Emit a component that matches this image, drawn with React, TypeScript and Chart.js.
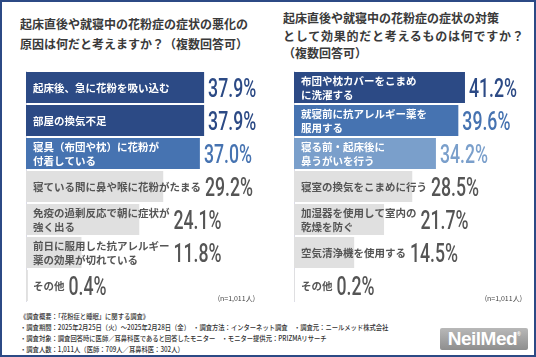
import React, { useEffect, useRef } from "react";
import { Chart, registerables } from "chart.js";

Chart.register(...registerables);

// ---------- DATA ----------
const leftCategories: string[][] = [
  ["起床後、急に花粉を吸い込む"],
  ["部屋の換気不足"],
  ["寝具（布団や枕）に花粉が", "付着している"],
  ["寝ている間に鼻や喉に花粉がたまる"],
  ["免疫の過剰反応で朝に症状が", "強く出る"],
  ["前日に服用した抗アレルギー", "薬の効果が切れている"],
  ["その他"],
];
const leftValues: number[] = [37.9, 37.9, 37.0, 29.2, 24.1, 11.8, 0.4];

const rightCategories: string[][] = [
  ["布団や枕カバーをこまめ", "に洗濯する"],
  ["就寝前に抗アレルギー薬を", "服用する"],
  ["寝る前・起床後に", "鼻うがいを行う"],
  ["寝室の換気をこまめに行う"],
  ["加湿器を使用して室内の", "乾燥を防ぐ"],
  ["空気清浄機を使用する"],
  ["その他"],
];
const rightValues: number[] = [41.2, 39.6, 34.2, 28.5, 21.7, 14.5, 0.2];

const leftTitle = ["起床直後や就寝中の花粉症の症状の悪化の", "原因は何だと考えますか？（複数回答可）"];
const rightTitle = ["起床直後や就寝中の花粉症の症状の対策", "として効果的だと考えるものは何ですか？", "（複数回答可）"];
const sampleNote = "(n=1,011人)";
const footerLines = [
  "《調査概要：「花粉症と睡眠」に関する調査》",
  "・調査期間：2025年2月25日（火）～2025年2月28日（金）　・調査方法：インターネット調査　・調査元：ニールメッド株式会社",
  "・調査対象：調査回答時に医師／耳鼻科医であると回答したモニター　・モニター提供元：PRIZMAリサーチ",
  "・調査人数：1,011人（医師：709人／耳鼻科医：302人）",
];

// ---------- STYLES ----------
const NAVY = "#2c4a85";
const MID = "#4673b1";
const LIGHT = "#7a9fcb";
const GRAY = "#e0e0e0";
const GRAYTEXT = "#555555";

const leftBarColors = [NAVY, NAVY, MID, GRAY, GRAY, GRAY, GRAY];
const leftValueColors = [NAVY, NAVY, MID, GRAYTEXT, GRAYTEXT, GRAYTEXT, GRAYTEXT];
const rightBarColors = [NAVY, MID, LIGHT, GRAY, GRAY, GRAY, GRAY];
const rightValueColors = [NAVY, MID, LIGHT, GRAYTEXT, GRAYTEXT, GRAYTEXT, GRAYTEXT];

const JP = '"Noto Sans CJK JP", "Noto Sans", sans-serif';

function makeLabelPlugin(cats: string[][], valueColors: string[], barColors: string[]) {
  return {
    id: "barLabels",
    beforeDatasetsDraw(chart: any) {
      const { ctx, chartArea } = chart;
      ctx.save();
      ctx.strokeStyle = "#dcdce8";
      ctx.lineWidth = 1;
      ctx.beginPath();
      ctx.moveTo(chartArea.left + 0.5, chartArea.top);
      ctx.lineTo(chartArea.left + 0.5, chartArea.bottom);
      ctx.stroke();
      ctx.restore();
    },
    afterDatasetsDraw(chart: any) {
      const { ctx } = chart;
      const meta = chart.getDatasetMeta(0);
      const data = chart.data.datasets[0].data as number[];
      meta.data.forEach((bar: any, i: number) => {
        const p = bar.getProps(["x", "y", "base"], true);
        const lines = cats[i];
        ctx.save();
        ctx.font = `bold 10.5px ${JP}`;
        ctx.textBaseline = "middle";
        ctx.fillStyle = barColors[i] === GRAY ? GRAYTEXT : "#ffffff";
        const tx = p.base + 7;
        let maxW = 0;
        const lh = 14;
        lines.forEach((ln, k) => {
          const yy = p.y + (k - (lines.length - 1) / 2) * lh + 0.5;
          ctx.fillText(ln, tx, yy);
          maxW = Math.max(maxW, ctx.measureText(ln).width);
        });
        const vx = Math.max(p.x, tx + maxW) + 4;
        ctx.translate(vx, p.y + 9);
        ctx.scale(0.68, 1);
        ctx.font = `500 26px Roboto, "DejaVu Sans", sans-serif`;
        ctx.textBaseline = "alphabetic";
        ctx.fillStyle = valueColors[i];
        ctx.fillText(data[i].toFixed(1) + "%", 0, 0);
        ctx.restore();
      });
    },
  };
}

function BarPanel(props: {
  cats: string[][];
  values: number[];
  barColors: string[];
  valueColors: string[];
  max: number;
  padRight: number;
}) {
  const ref = useRef<HTMLCanvasElement | null>(null);
  useEffect(() => {
    if (!ref.current) return;
    const chart = new Chart(ref.current, {
      type: "bar",
      data: {
        labels: props.cats.map((c) => c.join("")),
        datasets: [
          {
            data: props.values,
            backgroundColor: props.barColors,
            borderWidth: 0,
            barPercentage: 0.94,
            categoryPercentage: 1,
          },
        ],
      },
      options: {
        indexAxis: "y",
        animation: false,
        responsive: false,
        devicePixelRatio: 1,
        layout: { padding: { left: 26, right: props.padRight, top: 11, bottom: 8 } },
        plugins: { legend: { display: false }, tooltip: { enabled: false } },
        scales: {
          x: { display: false, min: 0, max: props.max },
          y: { display: false },
        },
      },
      plugins: [makeLabelPlugin(props.cats, props.valueColors, props.barColors)],
    } as any);
    return () => chart.destroy();
  }, []);
  return <canvas ref={ref} width={268} height={250} style={{ display: "block", width: 268, height: 250 }} />;
}

export default function App() {
  useEffect(() => {
    document.body.style.margin = "0";
  }, []);
  const titleStyle: React.CSSProperties = {
    position: "absolute",
    fontFamily: JP,
    fontWeight: 700,
    fontSize: 12,
    color: "#3a3a3a",
    whiteSpace: "nowrap",
  };
  return (
    <div
      style={{
        position: "absolute",
        left: 0,
        top: 0,
        width: 536,
        height: 357,
        boxSizing: "border-box",
        border: `2px solid ${NAVY}`,
        background: "#fff",
        overflow: "hidden",
      }}
    >
      <div style={{ ...titleStyle, left: 18, top: 12, lineHeight: "20px" }}>
        {leftTitle.map((t, i) => (
          <div key={i}>{t}</div>
        ))}
      </div>
      <div style={{ ...titleStyle, left: 281, top: 7, lineHeight: "17.5px" }}>
        {rightTitle.map((t, i) => (
          <div key={i} style={{ letterSpacing: i === 1 ? "0.75px" : "0px" }}>{t}</div>
        ))}
      </div>
      <div style={{ position: "absolute", left: -2, top: 58 }}>
        <BarPanel cats={leftCategories} values={leftValues} barColors={leftBarColors} valueColors={leftValueColors} max={48.94} padRight={12} />
      </div>
      <div style={{ position: "absolute", left: 266, top: 58 }}>
        <BarPanel cats={rightCategories} values={rightValues} barColors={rightBarColors} valueColors={rightValueColors} max={54.46} padRight={16} />
      </div>
      <div style={{ position: "absolute", right: 279, top: 291, fontFamily: JP, fontSize: 7, color: "#444" }}>{sampleNote}</div>
      <div style={{ position: "absolute", right: 12, top: 291, fontFamily: JP, fontSize: 7, color: "#444" }}>{sampleNote}</div>
      <div
        style={{
          position: "absolute",
          left: 18,
          top: 309,
          fontFamily: JP,
          fontSize: 7,
          fontWeight: 500,
          color: "#333",
          lineHeight: "11px",
          whiteSpace: "nowrap",
          transform: "scaleX(0.9)",
          transformOrigin: "0 0",
        }}
      >
        {footerLines.map((t, i) => (
          <div key={i}>{t}</div>
        ))}
      </div>
      <div
        style={{
          position: "absolute",
          left: 438,
          top: 326,
          width: 88,
          height: 22,
          borderRadius: 2,
          background: "linear-gradient(#b8b8b8, #8e8e8e)",
          color: "#fff",
          fontFamily: '"Liberation Sans", Arial, sans-serif',
          fontWeight: 700,
          fontSize: 19,
          lineHeight: "22px",
          textAlign: "center",
          letterSpacing: "-0.5px",
        }}
      >
        NeilMed<span style={{ fontSize: 5, verticalAlign: "top", lineHeight: "12px" }}>®</span>
      </div>
    </div>
  );
}
